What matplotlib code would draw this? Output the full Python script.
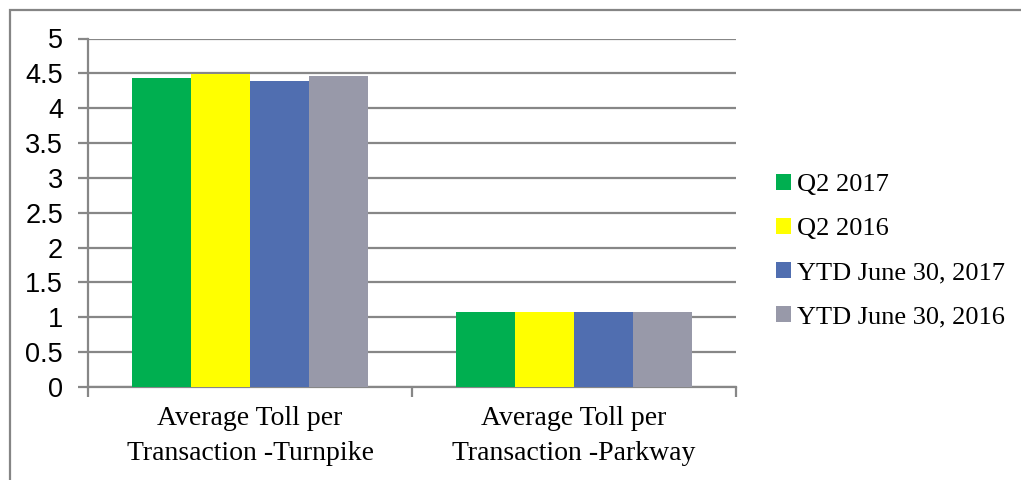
import matplotlib
matplotlib.use("Agg")
import matplotlib.pyplot as plt
from matplotlib.patches import Rectangle
import numpy as np

categories = ["Average Toll per\nTransaction -Turnpike", "Average Toll per\nTransaction -Parkway"]
series_names = ["Q2 2017", "Q2 2016", "YTD June 30, 2017", "YTD June 30, 2016"]
q2_2017 = [4.44, 1.07]
q2_2016 = [4.49, 1.07]
ytd_2017 = [4.39, 1.07]
ytd_2016 = [4.46, 1.07]
colors = ["#00AF50", "#FFFF00", "#506EB0", "#9899A9"]
y_ticks = [0, 0.5, 1, 1.5, 2, 2.5, 3, 3.5, 4, 4.5, 5]
y_tick_labels = ["0", "0.5", "1", "1.5", "2", "2.5", "3", "3.5", "4", "4.5", "5"]

fig = plt.figure(figsize=(10.21, 4.8), dpi=100)
ax = fig.add_axes([88 / 1021, 1 - 387 / 480, (736 - 88) / 1021, (387 - 38.5) / 480])

grid_col = "#878787"
x = np.arange(len(categories))
bar_w = 0.182
all_series = [q2_2017, q2_2016, ytd_2017, ytd_2016]
for i, (vals, name, col) in enumerate(zip(all_series, series_names, colors)):
    ax.bar(x + (i - 1.5) * bar_w, vals, width=bar_w, color=col, label=name,
           zorder=3, linewidth=0)

ax.set_xlim(-0.5, 1.5)
ax.set_ylim(0, 5)
ax.set_yticks(y_ticks)
ax.set_yticklabels(y_tick_labels, fontfamily="Liberation Sans", fontsize=19.5)
ax.yaxis.grid(True, color=grid_col, linewidth=1.6, zorder=0)
ax.set_axisbelow(True)

ax.set_xticks([-0.5, 0.5, 1.5])
ax.set_xticklabels(["", "", ""])
ax.set_xticks(x, minor=True)
ax.set_xticklabels(categories, minor=True, fontfamily="Liberation Serif",
                   fontsize=20, linespacing=1.5)
ax.tick_params(axis="x", which="minor", length=0, pad=14)
ax.tick_params(axis="x", which="major", length=7, width=1.6, color=grid_col)
ax.tick_params(axis="y", length=7, width=1.6, color=grid_col, pad=11)

for side in ["top", "right"]:
    ax.spines[side].set_visible(False)
for side in ["left", "bottom"]:
    ax.spines[side].set_color(grid_col)
    ax.spines[side].set_linewidth(1.6)

leg = fig.legend(loc="upper left", bbox_to_anchor=(763 / 1021, 1 - 161 / 480),
                 frameon=False, prop={"family": "Liberation Serif", "size": 19},
                 handlelength=0.55, handleheight=0.55, handletextpad=0.25,
                 labelspacing=0.82, borderpad=0)

fig.patches.append(Rectangle((10 / 1021, -0.1), 1.2, 1 - 10 / 480 + 0.1,
                             transform=fig.transFigure, fill=False,
                             edgecolor="#858585", linewidth=1.6))

fig.savefig("out.png", dpi=100)
